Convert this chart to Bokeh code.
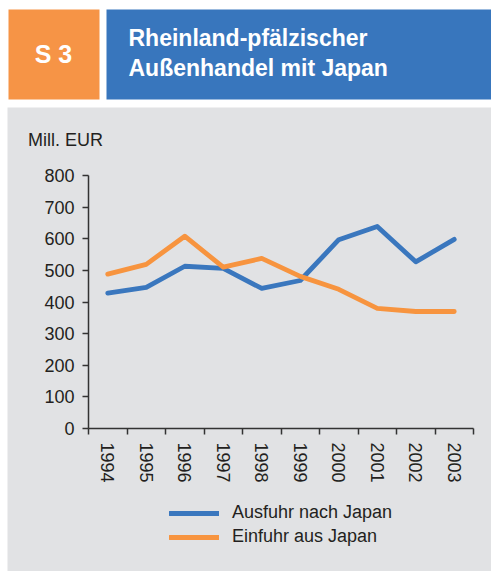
from bokeh.plotting import figure
from bokeh.models import (Range1d, FixedTicker, Legend, LegendItem, Label, ColumnDataSource, BoxAnnotation)
from bokeh.embed import file_html
from bokeh.resources import INLINE

# ---- data ----
years = [1994, 1995, 1996, 1997, 1998, 1999, 2000, 2001, 2002, 2003]
ausfuhr = [428, 446, 513, 506, 443, 468, 597, 639, 527, 598]
einfuhr = [488, 519, 608, 510, 538, 481, 440, 380, 370, 370]
year_labels = [str(y) for y in years]
y_ticks = [0, 100, 200, 300, 400, 500, 600, 700, 800]

series_names = ["Ausfuhr nach Japan", "Einfuhr aus Japan"]
header_tag = "S 3"
header_title = ["Rheinland-pfälzischer", "Außenhandel mit Japan"]
unit_label = "Mill. EUR"

BLUE = "#3a77be"
ORANGE = "#f7943f"
HEAD_BLUE = "#3876bd"
HEAD_ORANGE = "#f69446"
PANEL = "#e1e2e4"
TEXT = "#231f20"
AXIS = "#333333"
FONT = "Liberation Sans"

W, H = 491, 571

# ---- one figure whose frame is the whole canvas; axes sit at fixed locations ----
x0, x1 = years[0] - 0.5, years[-1] + 0.5
AX_L, AX_R, AX_T, AX_B = 88, 473, 175, 428      # axis box on the page, px
xs = (x1 - x0) / (AX_R - AX_L)
ys = (y_ticks[-1] - y_ticks[0]) / (AX_B - AX_T)

def px(xp):
    return x0 + (xp - AX_L) * xs

def py(yp):
    return y_ticks[0] + (AX_B - yp) * ys

p = figure(width=W, height=H, x_range=Range1d(px(0), px(W)), y_range=Range1d(py(H), py(0)),
           toolbar_location=None, output_backend="svg", min_border=0)
p.background_fill_color = "white"
p.border_fill_color = "white"
p.outline_line_color = None
p.grid.visible = False

# panel and header boxes
p.add_layout(BoxAnnotation(left=px(7), right=px(W), top=py(107), bottom=py(H),
                           fill_color=PANEL, fill_alpha=1, line_color=None, level="underlay"))
p.add_layout(BoxAnnotation(left=px(8), right=px(99), top=py(9), bottom=py(99),
                           fill_color=HEAD_ORANGE, fill_alpha=1, line_color=None, level="underlay"))
p.add_layout(BoxAnnotation(left=px(106), right=px(W), top=py(9), bottom=py(99),
                           fill_color=HEAD_BLUE, fill_alpha=1, line_color=None, level="underlay"))
p.add_layout(Label(x=px(53), y=py(53.5), text=header_tag, text_align="center",
                   text_baseline="alphabetic", text_color="white",
                   text_font=FONT, text_font_style="bold", text_font_size="25px"))
for i, t in enumerate(header_title):
    p.add_layout(Label(x=px(128), y=py(37.5 + 30 * i), text=t, text_align="left",
                       text_baseline="alphabetic", text_color="white",
                       text_font=FONT, text_font_style="bold", text_font_size="23px"))

src = ColumnDataSource(dict(x=years, a=ausfuhr, e=einfuhr))
r1 = p.line("x", "a", source=src, line_color=BLUE, line_width=4.8,
            line_cap="round", line_join="round")
r2 = p.line("x", "e", source=src, line_color=ORANGE, line_width=4.8,
            line_cap="round", line_join="round")

xa = p.xaxis[0]
xa.fixed_location = y_ticks[0]
xa.bounds = (x0, x1)
xa.ticker = FixedTicker(ticks=years, minor_ticks=[y - 0.5 for y in years] + [x1])
xa.major_label_overrides = {y: s for y, s in zip(years, year_labels)}
xa.major_label_orientation = "vertical"
xa.major_tick_line_color = None
xa.major_tick_in = 0
xa.major_tick_out = 6
xa.minor_tick_in = 0
xa.minor_tick_out = 6
xa.minor_tick_line_color = AXIS
xa.minor_tick_line_width = 1.5
xa.axis_line_color = AXIS
xa.axis_line_width = 1.5
xa.major_label_text_font = FONT
xa.major_label_text_font_size = "18px"
xa.major_label_text_color = TEXT
xa.major_label_standoff = 8

ya = p.yaxis[0]
ya.fixed_location = x0
ya.bounds = (y_ticks[0], y_ticks[-1])
ya.ticker = FixedTicker(ticks=y_ticks)
ya.major_tick_in = 0
ya.major_tick_out = 6
ya.major_tick_line_color = AXIS
ya.major_tick_line_width = 1.5
ya.minor_tick_line_color = None
ya.axis_line_color = AXIS
ya.axis_line_width = 1.5
ya.major_label_text_font = FONT
ya.major_label_text_font_size = "18px"
ya.major_label_text_color = TEXT
ya.major_label_standoff = 8

p.add_layout(Label(x=px(27.5), y=py(139.5), text=unit_label,
                   text_align="left", text_baseline="alphabetic", text_color=TEXT,
                   text_font=FONT, text_font_size="18px"))

legend = Legend(items=[LegendItem(label=series_names[0], renderers=[r1]),
                       LegendItem(label=series_names[1], renderers=[r2])],
                location=(169, H - 547), orientation="vertical",
                glyph_width=50, glyph_height=20, label_height=20, label_standoff=13, spacing=3,
                padding=0, margin=0,
                label_text_font=FONT, label_text_font_size="18px", label_text_color=TEXT,
                background_fill_alpha=0, border_line_color=None)
p.add_layout(legend)

open("out.html", "w").write(file_html(p, INLINE))
